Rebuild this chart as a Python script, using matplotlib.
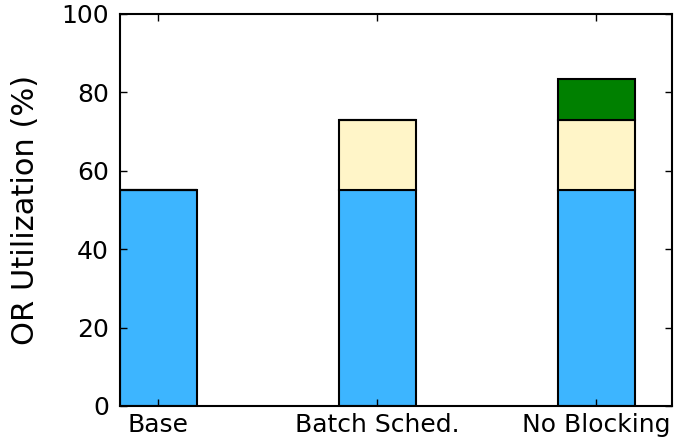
import matplotlib
matplotlib.use('Agg')
import matplotlib.pyplot as plt
import numpy as np

categories = ['Base', 'Batch Sched.', 'No Blocking']
base_util = [55.0, 55.0, 55.0]
batch_gain = [0.0, 18.0, 18.0]
noblock_gain = [0.0, 0.0, 10.5]

fig = plt.figure(figsize=(6.9, 4.41), dpi=100)
ax = fig.add_axes([0.174, 0.0794, 0.80, 0.889])

ind = np.arange(len(categories))
width = 0.35
bottom2 = np.array(base_util) + np.array(batch_gain)

ax.bar(ind, base_util, width, align='edge', color='#3db5ff',
       edgecolor='black', linewidth=1.5)
ax.bar(ind, batch_gain, width, bottom=base_util, align='edge',
       color='#fff5c8', edgecolor='black', linewidth=1.5)
ax.bar(ind, noblock_gain, width, bottom=bottom2, align='edge',
       color='#008000', edgecolor='black', linewidth=1.5)

ax.set_xlim(0, 2.52)
ax.set_ylim(0, 100)
ax.set_xticks(ind + width / 2)
ax.set_xticklabels(categories, fontsize=18)
ax.set_yticks(np.arange(0, 101, 20))
ax.tick_params(axis='y', labelsize=18, pad=8)
ax.tick_params(direction='in', top=True, right=True, length=5, width=1)
ax.tick_params(axis='x', pad=5)
ax.set_ylabel('OR Utilization (%)', fontsize=22)
ax.yaxis.set_label_coords(-0.145, 0.5)
for s in ax.spines.values():
    s.set_linewidth(1.5)

plt.savefig('out.png', dpi=100)
plt.close()
